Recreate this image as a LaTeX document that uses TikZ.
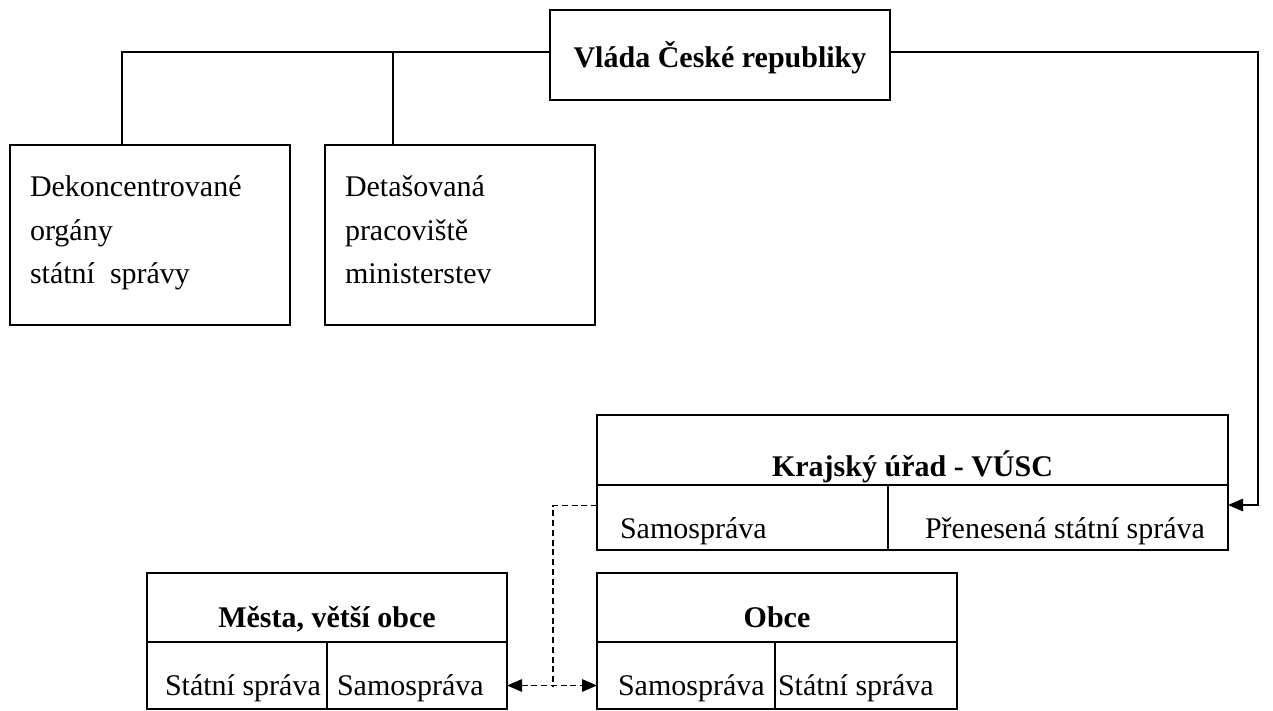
\documentclass[tikz,border=0pt]{standalone}
\usepackage{fontspec}
\setmainfont{Liberation Serif}
\usetikzlibrary{arrows.meta}

\newcommand{\celltext}[3]{\makebox[#1][l]{\hspace*{#2}#3}}

\tikzset{
  box/.style={draw, black, line width=0.6pt, inner sep=0pt, outer sep=0pt, anchor=north west,
    font=\fontsize{12}{17.4}\selectfont},
  head/.style={box, font=\fontsize{12}{17.4}\selectfont\bfseries},
  link/.style={black, line width=0.6pt},
  arrowend/.style={-{Triangle[length=6pt,width=5pt]}},
  dashlink/.style={link, dash pattern=on 2.4pt off 1.5pt}
}

\begin{document}
\begin{tikzpicture}[x=0.4pt, y=-0.4pt]
\useasboundingbox (0,0) rectangle (1273,711);
% top
\node[head, minimum width=136pt, text height=23.2pt, text depth=12.8pt] (vlada) at (550,10) {Vláda České republiky};
\node[box, minimum width=112pt, text height=20.8pt, text depth=51.2pt] (dekon) at (10,145)
  {\parbox[t]{96pt}{Dekoncentrované\\orgány\\státní\ \ správy}};
\node[box, minimum width=108pt, text height=20.8pt, text depth=51.2pt] (detas) at (325,145)
  {\parbox[t]{92pt}{Detašovaná\\pracoviště\\ministerstev}};
% kraj
\node[head, minimum width=252.4pt, text height=24.4pt, text depth=3.6pt] (kraj) at (597,415) {Krajský úřad - VÚSC};
\node[box, text height=21.2pt, text depth=4.8pt] (krajL) at (kraj.south west) {\celltext{116.4pt}{9.2pt}{Samospráva}};
\node[box, text height=21.2pt, text depth=4.8pt] (krajR) at (krajL.north east) {\celltext{136pt}{14.8pt}{Přenesená státní správa}};
% mesta
\node[head, minimum width=144pt, text height=21.6pt, text depth=6pt] (mesta) at (147,573) {Města, větší obce};
\node[box, text height=21.2pt, text depth=5.6pt] (mestaL) at (mesta.south west) {\celltext{72pt}{7.2pt}{Státní správa}};
\node[box, text height=21.2pt, text depth=5.6pt] (mestaR) at (mestaL.north east) {\celltext{72pt}{4pt}{Samospráva}};
% obce
\node[head, minimum width=144pt, text height=21.6pt, text depth=6pt] (obce) at (597,573) {Obce};
\node[box, text height=21.2pt, text depth=5.6pt] (obceL) at (obce.south west) {\celltext{71.2pt}{8.4pt}{Samospráva}};
\node[box, text height=21.2pt, text depth=5.6pt] (obceR) at (obceL.north east) {\celltext{72.8pt}{1.2pt}{Státní správa}};
\coordinate (dashc) at (553,687);

% connectors
\draw[link] ([yshift=1.2pt]vlada.west) -| ([xshift=-11.2pt]dekon.north);
\draw[link] ([xshift=-26.8pt]detas.north) |- ([yshift=1.2pt]vlada.west);
\draw[link, arrowend] ([yshift=1.2pt]vlada.east) -| ([xshift=12pt,yshift=5pt]krajR.east) -- ([yshift=5pt]krajR.east);
\draw[dashlink] ([yshift=4.8pt]krajL.west) -| (dashc);
\draw[dashlink, {Triangle[length=6pt,width=5pt]}-{Triangle[length=6pt,width=5pt]}] ([yshift=-4pt]mestaR.east) -- ([yshift=-4pt]obceL.west);
\end{tikzpicture}
\end{document}
